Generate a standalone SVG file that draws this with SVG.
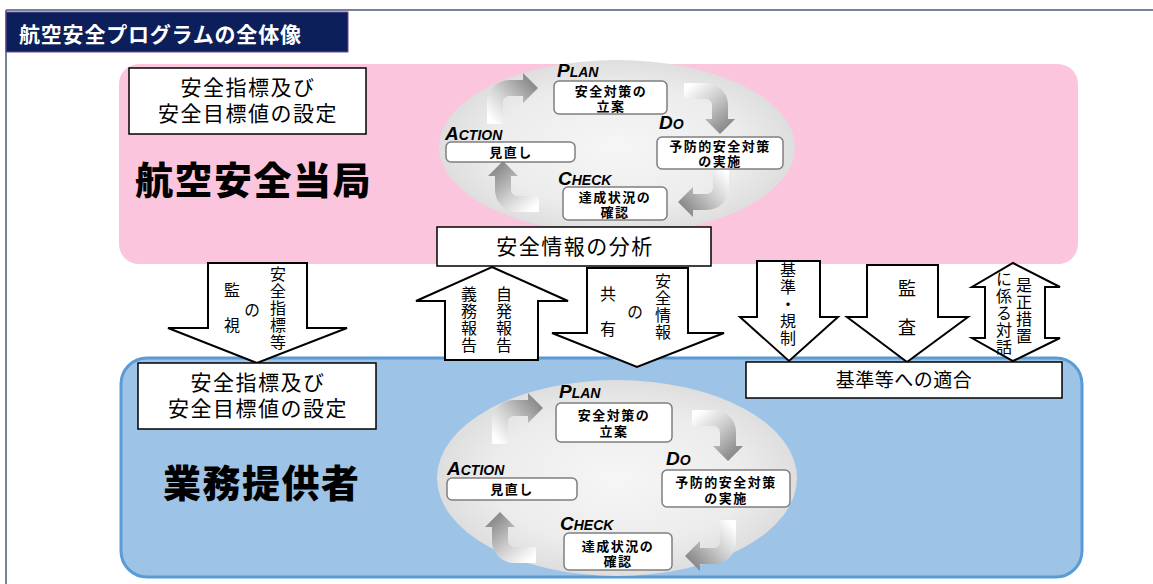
<svg xmlns="http://www.w3.org/2000/svg" xmlns:xlink="http://www.w3.org/1999/xlink" width="1153" height="584" viewBox="0 0 1153 584">
<style>
.jp{font-family:"Noto Sans CJK JP","Noto Sans CJK SC",sans-serif;fill:#000}
.box{fill:#fff;stroke:#000;stroke-width:1.5}
.cbox{fill:#fff;stroke:#7f7f7f;stroke-width:1.5}
.blk{fill:#fff;stroke:#000;stroke-width:2;stroke-linejoin:miter}
.lbl{font-family:"Liberation Sans",Arial,sans-serif;font-weight:bold;font-style:italic;fill:#000;font-size:14px}
.lbl .c{font-size:19px}
.ct{font-family:"Liberation Sans","Noto Sans CJK JP","Noto Sans CJK SC",sans-serif;fill:#000;font-size:13px;font-weight:bold;letter-spacing:1.5px;text-anchor:middle}
.vt{font-size:16px;writing-mode:vertical-rl;letter-spacing:1px}
.bt{font-family:"Liberation Sans","Noto Sans CJK JP","Noto Sans CJK SC",sans-serif;fill:#000;font-size:21px;letter-spacing:1.5px;text-anchor:middle}
.big{font-size:38px;font-weight:900;letter-spacing:1.5px}
.cyc{fill:url(#cg)}
</style>
<defs>
<radialGradient id="eg" cx="50%" cy="50%" r="50%">
<stop offset="0" stop-color="#f6f6f6"/>
<stop offset="0.7" stop-color="#ececec"/>
<stop offset="1" stop-color="#dedede"/>
</radialGradient>
<linearGradient id="cg" gradientUnits="userSpaceOnUse" x1="-14" y1="22" x2="28" y2="-14">
<stop offset="0" stop-color="#ffffff"/>
<stop offset="0.45" stop-color="#cfcfcf"/>
<stop offset="1" stop-color="#8a8a8a"/>
</linearGradient>
<path id="cy" d="M -22 22 L -22 0 A 22 22 0 0 1 0 -22 L 14 -22 L 14 -29 L 29 -14 L 14 1 L 14 -6 L 0 -6 A 6 6 0 0 0 -6 0 L -6 22 Z"/>
</defs>
<rect width="1153" height="584" fill="#fff"/>
<g id="frame">
<line x1="6" y1="10" x2="1153" y2="10" stroke="#4a5a7a" stroke-width="1.5"/>
<line x1="6" y1="10" x2="6" y2="584" stroke="#4a5a7a" stroke-width="1.5"/>
</g>
<g id="title">
<rect x="6" y="12" width="342" height="40" fill="#0c1f5b" stroke="#6a4c9c" stroke-width="1"/>
<text class="jp" x="19" y="42" font-size="21" font-weight="bold" letter-spacing="0.8" style="fill:#fff">航空安全プログラムの全体像</text>
</g>
<g id="authority">
<rect x="119" y="64" width="959" height="200" rx="20" fill="#fbc6dd"/>
<ellipse cx="617" cy="147" rx="178" ry="87" fill="url(#eg)"/>
<text class="jp big" x="135" y="194">航空安全当局</text>
</g>
<g id="provider">
<rect x="121" y="358" width="961" height="219" rx="26" fill="#9dc3e6" stroke="#5b9bd5" stroke-width="3"/>
<ellipse cx="617" cy="478" rx="180" ry="98" fill="url(#eg)"/>
<text class="jp big" x="163" y="497">業務提供者</text>
</g>
<g id="connectors">
<polygon class="blk" points="208,263 307,263 307,328 347,328 257,363 168,328 208,328"/>
<polygon class="blk" points="492,267 568,301 538,301 538,360 445,360 445,301 416,301"/>
<polygon class="blk" points="587,268 688,268 688,333 724,333 637,367 552,333 587,333"/>
<polygon class="blk" points="757,261 820,261 820,317 838,317 789,361 740,317 757,317"/>
<polygon class="blk" points="867,265 938,265 938,317 968,317 907,362 847,317 867,317"/>
<polygon class="blk" points="1013,263 1060,287 1045,287 1045,338 1060,338 1013,361 972,338 985,338 985,287 972,287"/>
<text class="jp vt" x="278" y="266">安全指標等</text>
<text class="jp vt" x="232" y="282" style="letter-spacing:19px">監視</text>
<text class="jp vt" x="252" y="302">の</text>
<text class="jp vt" x="469" y="286">義務報告</text>
<text class="jp vt" x="504" y="286">自発報告</text>
<text class="jp vt" x="663" y="273">安全情報</text>
<text class="jp vt" x="608" y="286" style="letter-spacing:19px">共有</text>
<text class="jp vt" x="635" y="304">の</text>
<text class="jp vt" x="788" y="262">基準・規制</text>
<text class="jp vt" x="907" y="279" style="font-size:18px;letter-spacing:21px">監査</text>
<text class="jp vt" x="1024" y="277">是正措置</text>
<text class="jp vt" x="1004" y="271">に係る対話</text>
</g>
<g id="top-cycle-arrows">
<use xlink:href="#cy" class="cyc" transform="translate(509,102)"/>
<use xlink:href="#cy" class="cyc" transform="translate(706,105) rotate(90)"/>
<use xlink:href="#cy" class="cyc" transform="translate(707,188) rotate(180)"/>
<use xlink:href="#cy" class="cyc" transform="translate(517,190) rotate(270)"/>
</g>
<g id="bottom-cycle-arrows">
<use xlink:href="#cy" class="cyc" transform="translate(514,422)"/>
<use xlink:href="#cy" class="cyc" transform="translate(714,432) rotate(90)"/>
<use xlink:href="#cy" class="cyc" transform="translate(714,542) rotate(180)"/>
<use xlink:href="#cy" class="cyc" transform="translate(514,541) rotate(270)"/>
</g>
<g id="top-setting">
<rect class="box" x="129" y="68" width="237" height="66"/>
<text class="bt" x="248" y="95">安全指標及び</text>
<text class="bt" x="248" y="121">安全目標値の設定</text>
</g>
<g id="analysis">
<rect class="box" x="437" y="227" width="274" height="39"/>
<text class="bt" x="575" y="254">安全情報の分析</text>
</g>
<g id="bottom-setting">
<rect class="box" x="138" y="363" width="238" height="66"/>
<text class="bt" x="258" y="390">安全指標及び</text>
<text class="bt" x="258" y="416">安全目標値の設定</text>
</g>
<g id="compliance">
<rect class="box" x="746" y="362" width="316" height="36"/>
<text class="jp" x="904" y="387" font-size="19" letter-spacing="0.5" text-anchor="middle">基準等への適合</text>
</g>
<g id="top-plan">
<text class="lbl" x="557" y="77"><tspan class="c">P</tspan>LAN</text>
<rect class="cbox" x="554" y="81" width="113" height="33" rx="5"/>
<text class="ct" x="611" y="96">安全対策の</text>
<text class="ct" x="611" y="111">立案</text>
</g>
<g id="top-do">
<text class="lbl" x="659" y="129"><tspan class="c">D</tspan>O</text>
<rect class="cbox" x="657" y="137" width="126" height="32" rx="5"/>
<text class="ct" x="720" y="151">予防的安全対策</text>
<text class="ct" x="720" y="166">の実施</text>
</g>
<g id="top-action">
<text class="lbl" x="445" y="140"><tspan class="c">A</tspan>CTION</text>
<rect class="cbox" x="446" y="142" width="129" height="20" rx="5"/>
<text class="ct" x="511" y="157">見直し</text>
</g>
<g id="top-check">
<text class="lbl" x="558" y="185"><tspan class="c">C</tspan>HECK</text>
<rect class="cbox" x="563" y="187" width="104" height="33" rx="5"/>
<text class="ct" x="615" y="202">達成状況の</text>
<text class="ct" x="615" y="217">確認</text>
</g>
<g id="bottom-plan">
<text class="lbl" x="559" y="398"><tspan class="c">P</tspan>LAN</text>
<rect class="cbox" x="556" y="403" width="116" height="39" rx="5"/>
<text class="ct" x="614" y="420">安全対策の</text>
<text class="ct" x="614" y="436">立案</text>
</g>
<g id="bottom-do">
<text class="lbl" x="666" y="465"><tspan class="c">D</tspan>O</text>
<rect class="cbox" x="662" y="470" width="128" height="37" rx="5"/>
<text class="ct" x="726" y="487">予防的安全対策</text>
<text class="ct" x="726" y="503">の実施</text>
</g>
<g id="bottom-action">
<text class="lbl" x="447" y="475"><tspan class="c">A</tspan>CTION</text>
<rect class="cbox" x="447" y="478" width="130" height="22" rx="5"/>
<text class="ct" x="512" y="494">見直し</text>
</g>
<g id="bottom-check">
<text class="lbl" x="560" y="530"><tspan class="c">C</tspan>HECK</text>
<rect class="cbox" x="564" y="533" width="108" height="37" rx="5"/>
<text class="ct" x="618" y="551">達成状況の</text>
<text class="ct" x="618" y="566">確認</text>
</g>
</svg>
